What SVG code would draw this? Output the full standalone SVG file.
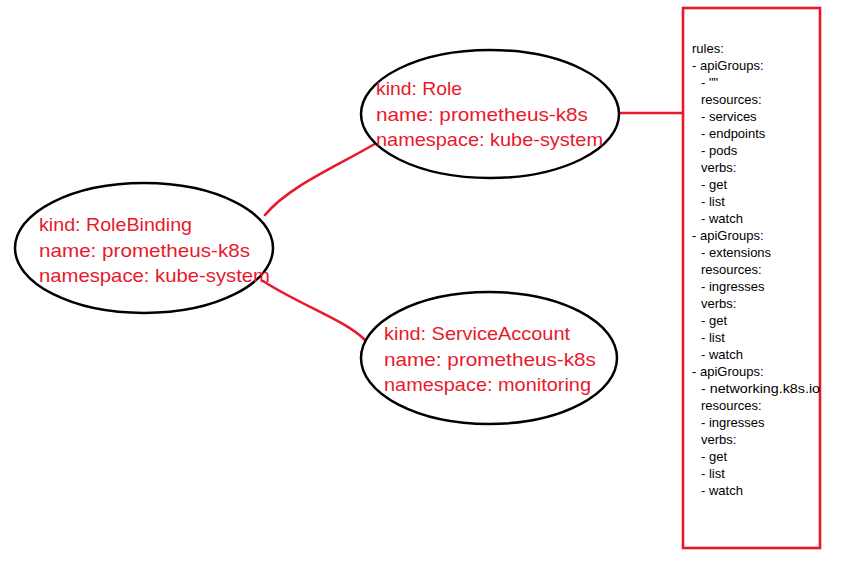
<svg xmlns="http://www.w3.org/2000/svg" width="841" height="571" viewBox="0 0 841 571">
<style>
.node ellipse{fill:#fff;stroke:#000;stroke-width:2.5}
.lbl{font-family:"Liberation Sans",Arial,sans-serif;font-size:19px;fill:#e8192c}
.code{font-family:"Liberation Sans",Arial,sans-serif;font-size:13px;fill:#000}
.conn path{fill:none;stroke:#e8192c;stroke-width:2.6;stroke-linecap:round}
</style>
<rect width="841" height="571" fill="#fff"/>
<g class="conn" id="connectors">
<path d="M265 215 C290 185 340 165 378 142"/>
<path d="M263 281 C300 305 345 320 365 340"/>
<path d="M618 113 L683 113"/>
</g>
<g class="node" id="rolebinding">
<ellipse cx="144" cy="248" rx="129" ry="65"/>
<text class="lbl" x="39" y="231" textLength="153" lengthAdjust="spacingAndGlyphs">kind: RoleBinding</text>
<text class="lbl" x="39" y="257" textLength="211" lengthAdjust="spacingAndGlyphs">name: prometheus-k8s</text>
<text class="lbl" x="39" y="282" textLength="231" lengthAdjust="spacingAndGlyphs">namespace: kube-system</text>
</g>
<g class="node" id="role">
<ellipse cx="490" cy="114" rx="129" ry="64"/>
<text class="lbl" x="376" y="95" textLength="86" lengthAdjust="spacingAndGlyphs">kind: Role</text>
<text class="lbl" x="376" y="121" textLength="212" lengthAdjust="spacingAndGlyphs">name: prometheus-k8s</text>
<text class="lbl" x="376" y="146" textLength="227" lengthAdjust="spacingAndGlyphs">namespace: kube-system</text>
</g>
<g class="node" id="serviceaccount">
<ellipse cx="489" cy="358" rx="128" ry="66"/>
<text class="lbl" x="384" y="340" textLength="186" lengthAdjust="spacingAndGlyphs">kind: ServiceAccount</text>
<text class="lbl" x="384" y="366" textLength="212" lengthAdjust="spacingAndGlyphs">name: prometheus-k8s</text>
<text class="lbl" x="384" y="391" textLength="207" lengthAdjust="spacingAndGlyphs">namespace: monitoring</text>
</g>
<g id="rules">
<rect x="683" y="8" width="137" height="540" fill="#fff" stroke="#e8192c" stroke-width="2.6"/>
<text class="code" x="692" y="53">rules:</text>
<text class="code" x="692" y="70">- apiGroups:</text>
<text class="code" x="701" y="87">- ""</text>
<text class="code" x="701" y="104">resources:</text>
<text class="code" x="701" y="121">- services</text>
<text class="code" x="701" y="138">- endpoints</text>
<text class="code" x="701" y="155">- pods</text>
<text class="code" x="701" y="172">verbs:</text>
<text class="code" x="701" y="189">- get</text>
<text class="code" x="701" y="206">- list</text>
<text class="code" x="701" y="223">- watch</text>
<text class="code" x="692" y="240">- apiGroups:</text>
<text class="code" x="701" y="257">- extensions</text>
<text class="code" x="701" y="274">resources:</text>
<text class="code" x="701" y="291">- ingresses</text>
<text class="code" x="701" y="308">verbs:</text>
<text class="code" x="701" y="325">- get</text>
<text class="code" x="701" y="342">- list</text>
<text class="code" x="701" y="359">- watch</text>
<text class="code" x="692" y="376">- apiGroups:</text>
<text class="code" x="701" y="393" textLength="119" lengthAdjust="spacingAndGlyphs">- networking.k8s.io</text>
<text class="code" x="701" y="410">resources:</text>
<text class="code" x="701" y="427">- ingresses</text>
<text class="code" x="701" y="444">verbs:</text>
<text class="code" x="701" y="461">- get</text>
<text class="code" x="701" y="478">- list</text>
<text class="code" x="701" y="495">- watch</text>
</g>
</svg>
